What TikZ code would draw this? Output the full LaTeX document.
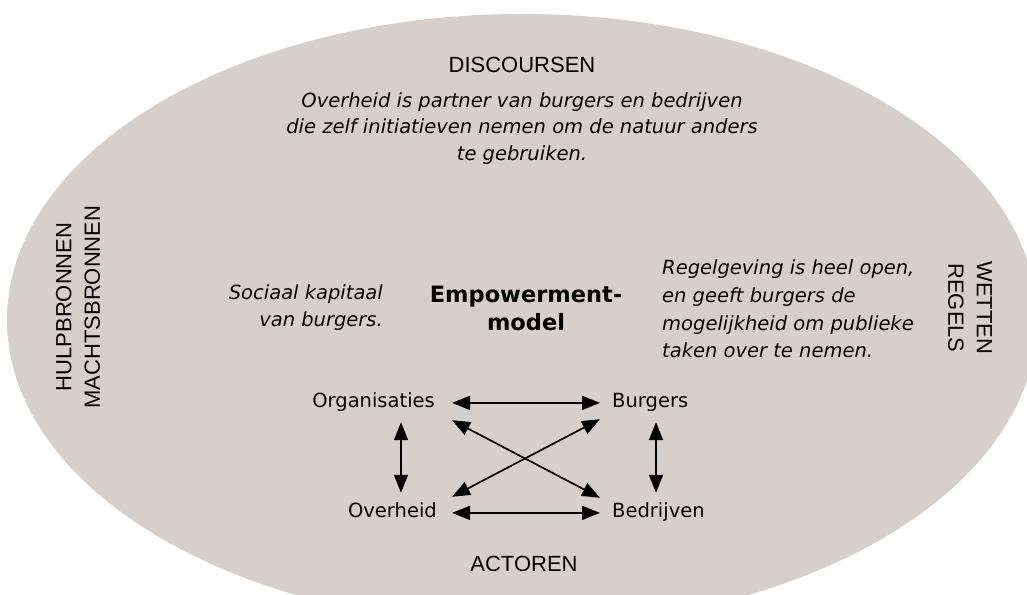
\documentclass[tikz,border=0pt]{standalone}
\usepackage{fontspec}
\setmainfont{DejaVu Sans}
\newfontfamily\headfont{Liberation Sans}
\usetikzlibrary{arrows.meta}
\definecolor{ovalgrey}{RGB}{213,208,204}

\begin{document}
\begin{tikzpicture}[x=1pt,y=1pt,
	head/.style={font={\headfont\fontsize{22}{28.5}\selectfont}, inner sep=0pt, align=center},
	body/.style={font={\fontsize{19.5}{27.5}\selectfont\itshape}, inner sep=0pt},
	actor/.style={font={\fontsize{19.5}{24}\selectfont}, inner sep=0pt, text height=14.8pt, text depth=4.6pt},
	link/.style={{Triangle[length=18pt,width=14pt]}-{Triangle[length=18pt,width=14pt]}, line width=1.7pt}]
	\clip (0,0) rectangle (1027,594);
	\fill[ovalgrey] (522,274) ellipse [x radius=515, y radius=306];
	\node[head, anchor=base] (disc) at (522,521) {DISCOURSEN};
	\node[body, align=center, anchor=north, font={\fontsize{19.5}{26.5}\selectfont\itshape}] (disctext) at (522,501.8)
		{Overheid is partner van burgers en bedrijven\\die zelf initiatieven nemen om de natuur anders\\te gebruiken.};
	\node[body, align=right, anchor=north east] (kapitaal) at (383,309.8) {Sociaal kapitaal\\van burgers.};
	\node[font={\fontsize{22.5}{28}\selectfont\bfseries}, inner sep=0pt, align=center, anchor=north] (model) at (526,308.4) {Empowerment-\\model};
	\node[body, align=left, anchor=north west, font={\fontsize{19.5}{27.7}\selectfont\itshape}] (regels) at (662,334.3)
		{Regelgeving is heel open,\\en geeft burgers de\\mogelijkheid om publieke\\taken over te nemen.};
	\node[head, rotate=-90] (wetten) at (970,286) {WETTEN\\REGELS};
	\node[head, rotate=90] (bronnen) at (78,287) {HULPBRONNEN\\MACHTSBRONNEN};
	\node[head, anchor=base] (actoren) at (524,23) {ACTOREN};
	\node[actor, anchor=base east] (org) at (435,186) {Organisaties};
	\node[actor, anchor=base west] (burg) at (612,186) {Burgers};
	\node[actor, anchor=base east] (ov) at (437,76) {Overheid};
	\node[actor, anchor=base west] (bed) at (612,76) {Bedrijven};
	\draw[link] ([xshift=17pt]org.east) -- ([xshift=-12pt]burg.west);
	\draw[link] ([xshift=15pt]ov.east) -- ([xshift=-12pt]bed.west);
	\draw[link] ([shift={(-34pt,-9.4pt)}]org.south east) -- ([shift={(-36pt,10.2pt)}]ov.north east);
	\draw[link] ([shift={(44pt,-9.4pt)}]burg.south west) -- ([shift={(44pt,10.2pt)}]bed.north west);
	\draw[link] ([shift={(17pt,-7.4pt)}]org.south east) -- ([shift={(-12pt,5.2pt)}]bed.north west);
	\draw[link] ([shift={(15pt,6.2pt)}]ov.north east) -- ([shift={(-12pt,-6.4pt)}]burg.south west);
\end{tikzpicture}
\end{document}
